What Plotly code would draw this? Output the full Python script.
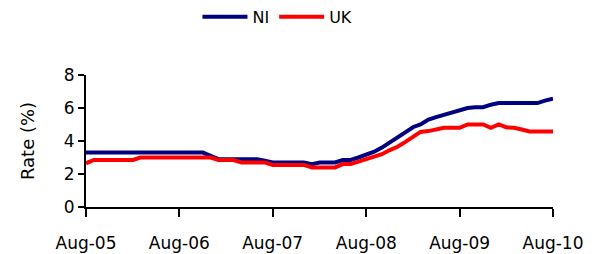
import plotly.graph_objects as go
import pandas as pd

months = pd.date_range("2005-08-01", "2010-08-01", freq="MS")

ni = [3.3]*16 + [3.1] + [2.9]*6 + [2.8] + [2.7]*5 + [2.6] + [2.7]*3 + [2.85]*2 + \
     [3.0, 3.15, 3.35, 3.6, 3.9, 4.2, 4.5, 4.85, 5.0, 5.3, 5.45, 5.6, 5.75, 5.9, 6.0, 6.05, 6.05, 6.2] + \
     [6.3]*6 + [6.45, 6.57]
uk = [2.65] + [2.85]*6 + [3.0]*10 + [2.85]*3 + [2.7]*4 + [2.55]*5 + [2.4]*4 + [2.6]*2 + \
     [2.75, 2.9, 3.05, 3.2, 3.45, 3.65, 3.95, 4.25, 4.55, 4.6, 4.7, 4.8, 4.8, 4.8, 5.0, 5.0, 5.0, 4.8, 5.0, 4.82, 4.8, 4.7] + \
     [4.58]*4

tick_vals = pd.date_range("2005-08-01", "2010-08-01", freq="12MS")
tick_text = ["Aug-05", "Aug-06", "Aug-07", "Aug-08", "Aug-09", "Aug-10"]

fig = go.Figure()
fig.add_trace(go.Scatter(x=months, y=ni, name="NI", mode="lines",
                         line=dict(color="#000080", width=4)))
fig.add_trace(go.Scatter(x=months, y=uk, name="UK", mode="lines",
                         line=dict(color="#FF0000", width=4)))

fig.update_layout(
    width=603, height=254,
    margin=dict(l=78, r=58, t=67, b=55, autoexpand=False),
    paper_bgcolor="white", plot_bgcolor="white",
    font=dict(family="DejaVu Sans", size=17, color="black"),
    showlegend=True,
    legend=dict(orientation="h", x=0.41, xanchor="center", y=1.44, yanchor="middle",
                font=dict(size=16), itemwidth=45, tracegroupgap=0),
)
fig.update_xaxes(range=[months[0], months[-1]], tickvals=tick_vals, ticktext=tick_text,
                 showgrid=False, showline=True, linecolor="black", linewidth=2,
                 ticks="outside", ticklen=8, tickwidth=2, tickcolor="black", zeroline=False,
                 ticklabelstandoff=12, automargin=False)
fig.update_yaxes(range=[0, 8], tickvals=[0, 2, 4, 6, 8],
                 title=dict(text="Rate (%)", standoff=24, font=dict(size=18, family="DejaVu Sans", color="black")),
                 showgrid=False, showline=True, linecolor="black", linewidth=2,
                 ticks="outside", ticklen=6, tickwidth=2, tickcolor="black", zeroline=False,
                 automargin=False)

fig.write_html("out.html")
